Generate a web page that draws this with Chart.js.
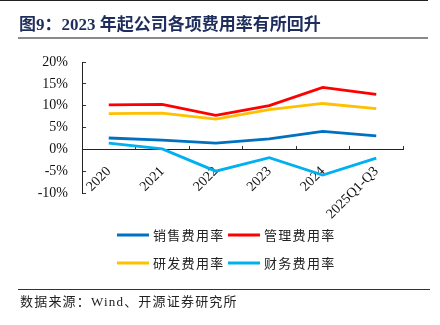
<!DOCTYPE html>
<html>
<head>
<meta charset="utf-8">
<script src="https://cdn.jsdelivr.net/npm/chart.js@4"></script>
<style>
html,body{margin:0;padding:0;background:#fff;}
#wrap{position:relative;width:440px;height:325px;overflow:hidden;}
#topline{position:absolute;left:0;top:0;width:428px;height:1px;background:#222;}
#title{position:absolute;left:19px;top:13px;font-family:"Liberation Serif","Noto Sans CJK SC",serif;font-weight:bold;font-size:17px;color:#1f2d5c;white-space:nowrap;line-height:24px;}
#titleline{position:absolute;left:18px;top:37px;width:410px;height:2px;background:#8a8a8a;}
#footline{position:absolute;left:18px;top:289px;width:412px;height:1px;background:#333;}
#source{position:absolute;left:20px;top:293px;font-family:"Liberation Serif","Noto Sans CJK SC",serif;font-size:13px;letter-spacing:1.2px;color:#222;white-space:nowrap;line-height:18px;}
canvas{position:absolute;left:0;top:0;}
</style>
</head>
<body>
<div id="wrap">
<canvas id="c" width="440" height="325"></canvas>
<div id="topline"></div>
<div id="title">图9：2023 年起公司各项费用率有所回升</div>
<div id="titleline"></div>
<div id="footline"></div>
<div id="source">数据来源：Wind、开源证券研究所</div>
</div>
<script>
const categories = ['2020', '2021', '2022', '2023', '2024', '2025Q1-Q3'];
const seriesNames = ['销售费用率', '管理费用率', '研发费用率', '财务费用率'];
const salesRate = [2.6, 2.1, 1.4, 2.4, 4.1, 3.1];
const adminRate = [10.2, 10.3, 7.8, 10.0, 14.2, 12.6];
const rdRate = [8.2, 8.3, 6.9, 9.1, 10.5, 9.3];
const financeRate = [1.4, 0.1, -5.0, -1.9, -5.9, -2.0];
const yMin = -10, yMax = 20, yStep = 5;

const colors = ['#0070C0', '#FF0000', '#FFC000', '#00B0F0'];
const seriesValues = [salesRate, adminRate, rdRate, financeRate];

const legendSlots = [
  {x: 117, y: 235}, {x: 228, y: 235},
  {x: 117, y: 263}, {x: 228, y: 263}
];

const customLegend = {
  id: 'customLegend',
  afterDraw(chart) {
    const ctx = chart.ctx;
    ctx.save();
    ctx.font = '13px "Noto Sans CJK SC", sans-serif';
    ctx.textBaseline = 'middle';
    ctx.textAlign = 'left';
    if ('letterSpacing' in ctx) ctx.letterSpacing = '1.3px';
    chart.data.datasets.forEach((ds, i) => {
      const s = legendSlots[i];
      ctx.strokeStyle = ds.borderColor;
      ctx.lineWidth = 3;
      ctx.beginPath();
      ctx.moveTo(s.x, s.y);
      ctx.lineTo(s.x + 32, s.y);
      ctx.stroke();
      ctx.fillStyle = '#222';
      ctx.fillText(ds.label, s.x + 36, s.y + 0.5);
    });
    ctx.restore();
  }
};

new Chart(document.getElementById('c'), {
  type: 'line',
  data: {
    labels: categories,
    datasets: seriesNames.map((n, i) => ({
      label: n,
      data: seriesValues[i],
      borderColor: colors[i],
      backgroundColor: colors[i],
      borderWidth: 2.8,
      pointRadius: 0,
      tension: 0,
      fill: false
    }))
  },
  options: {
    responsive: false,
    animation: false,
    devicePixelRatio: 1,
    layout: {padding: {left: 0, right: 37, top: 62, bottom: 132}},
    plugins: {legend: {display: false}, tooltip: {enabled: false}, title: {display: false}},
    scales: {
      x: {
        type: 'category',
        position: {y: 0},
        offset: true,
        grid: {display: true, drawOnChartArea: false, drawTicks: true, tickLength: -4, offset: true, color: '#333', lineWidth: 1},
        border: {display: true, color: '#222', width: 1},
        ticks: {
          autoSkip: false, maxRotation: 45, minRotation: 45, padding: 18,
          color: '#111', font: {family: '"Liberation Serif", serif', size: 14}
        }
      },
      y: {
        min: yMin, max: yMax,
        afterFit(scale) { scale.width = 82; },
        grid: {display: true, drawOnChartArea: false, drawTicks: true, tickLength: -4, color: '#333', lineWidth: 1},
        border: {display: true, color: '#222', width: 1},
        ticks: {
          stepSize: yStep, padding: 18,
          color: '#111', font: {family: '"Liberation Serif", serif', size: 14},
          callback: v => v + '%'
        }
      }
    }
  },
  plugins: [customLegend]
});
</script>
</body>
</html>
